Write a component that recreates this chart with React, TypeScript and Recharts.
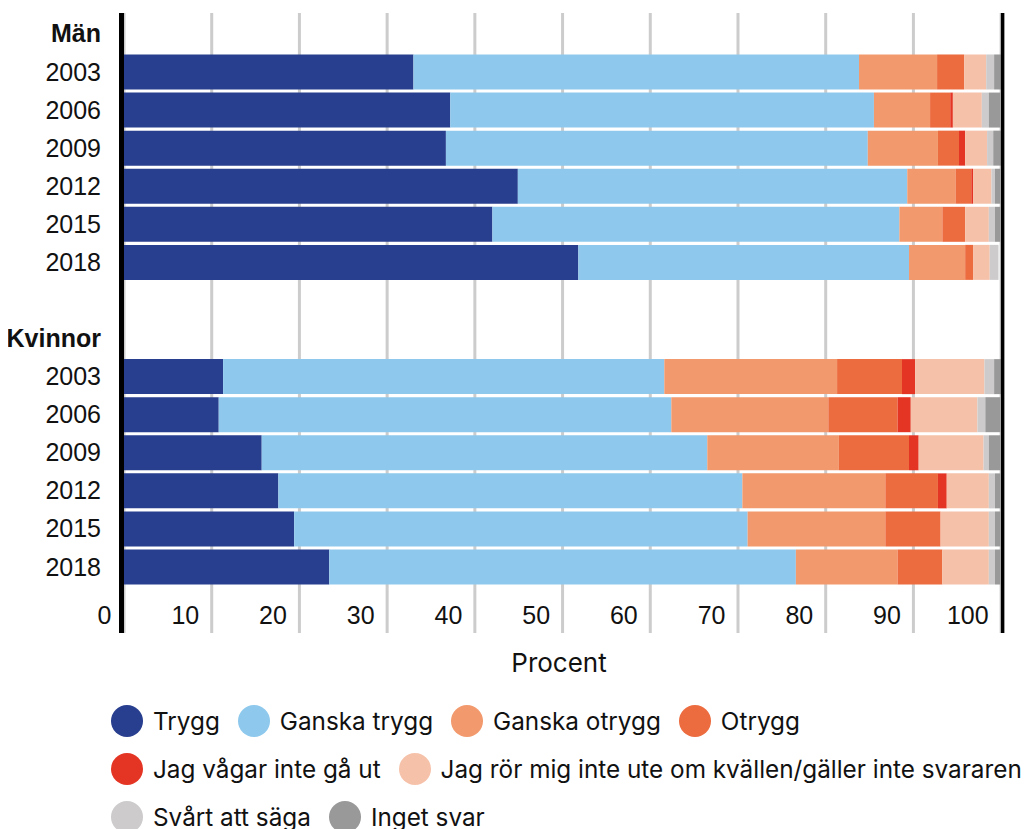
import { BarChart, Bar, XAxis, YAxis, CartesianGrid, ReferenceLine } from "recharts";

// Andel (%) som känner sig trygga ute ensamma sent en kväll
const years = ["2003", "2006", "2009", "2012", "2015", "2018"];
const groups = ["Män", "Kvinnor"];
const xTicks = [0, 10, 20, 30, 40, 50, 60, 70, 80, 90, 100];

const seriesNames = [
  "Trygg",
  "Ganska trygg",
  "Ganska otrygg",
  "Otrygg",
  "Jag vågar inte gå ut",
  "Jag rör mig inte ute om kvällen/gäller inte svararen",
  "Svårt att säga",
  "Inget svar",
];
const seriesColors = ["#283e8f", "#8ec9ed", "#f2996d", "#ec6b3f", "#e43524", "#f6c1a9", "#cdcbcb", "#999999"];

// Män, per svarsalternativ, 2003–2018
const menTrygg = [33.0, 37.2, 36.7, 44.9, 42.0, 51.8];
const menGanskaTrygg = [50.8, 48.3, 48.1, 44.4, 46.4, 37.7];
const menGanskaOtrygg = [8.9, 6.4, 8.0, 5.5, 4.9, 6.4];
const menOtrygg = [3.1, 2.3, 2.4, 1.8, 2.6, 0.9];
const menVagarInte = [0, 0.3, 0.7, 0.2, 0, 0];
const menRorMigInte = [2.5, 3.3, 2.5, 2.1, 2.7, 1.9];
const menSvart = [0.9, 0.8, 0.7, 0.4, 0.7, 1.0];
const menIngetSvar = [0.8, 1.3, 0.9, 0.6, 0.6, 0];

// Kvinnor, per svarsalternativ, 2003–2018
const womenTrygg = [11.3, 10.8, 15.7, 17.6, 19.4, 23.4];
const womenGanskaTrygg = [50.3, 51.6, 50.8, 52.9, 51.7, 53.2];
const womenGanskaOtrygg = [19.7, 17.9, 15.0, 16.3, 15.7, 11.6];
const womenOtrygg = [7.4, 7.9, 8.0, 6.0, 6.3, 5.1];
const womenVagarInte = [1.5, 1.5, 1.1, 1.0, 0, 0];
const womenRorMigInte = [7.9, 7.6, 7.4, 4.8, 5.5, 5.3];
const womenSvart = [1.1, 0.9, 0.6, 0.7, 0.7, 0.7];
const womenIngetSvar = [0.9, 1.7, 1.3, 0.6, 0.6, 0.6];

const menSeries = [menTrygg, menGanskaTrygg, menGanskaOtrygg, menOtrygg, menVagarInte, menRorMigInte, menSvart, menIngetSvar];
const womenSeries = [
  womenTrygg,
  womenGanskaTrygg,
  womenGanskaOtrygg,
  womenOtrygg,
  womenVagarInte,
  womenRorMigInte,
  womenSvart,
  womenIngetSvar,
];

const legendRows = [[0, 1, 2, 3], [4, 5], [6, 7]];

type Row = { id: string; label: string; header?: boolean; [k: string]: any };

const buildRows = (prefix: string, series: number[][]): Row[] =>
  years.map((y, i) => {
    const row: Row = { id: prefix + y, label: y };
    series.forEach((s, j) => (row["s" + j] = s[i]));
    return row;
  });

const data: Row[] = [
  { id: "men", label: groups[0], header: true },
  ...buildRows("m", menSeries),
  { id: "gap", label: "" },
  { id: "women", label: groups[1], header: true },
  ...buildRows("w", womenSeries),
];

const labelById: Record<string, Row> = {};
data.forEach((r) => (labelById[r.id] = r));

const FONT = "'Liberation Sans', Arial, sans-serif";

const YTick = ({ x, y, payload }: any) => {
  const row = labelById[payload.value];
  if (!row || !row.label) return null;
  return (
    <text
      x={x}
      y={y}
      dy="0.36em"
      textAnchor="end"
      fontFamily={FONT}
      fontSize={25}
      fontWeight={row.header ? 700 : 400}
      fill="#111"
    >
      {row.label}
    </text>
  );
};

const XTick = ({ x, y, payload }: any) => (
  <text x={x - 12.5} y={y - 9} textAnchor="end" fontFamily={FONT} fontSize={25} fill="#111">
    {payload.value}
  </text>
);

const Legend = () => (
  <div style={{ position: "absolute", left: 103, top: 697, fontFamily: "Inter, sans-serif", fontSize: 24.3, color: "#111" }}>
    {legendRows.map((r, ri) => (
      <div key={ri} style={{ display: "flex", alignItems: "center", height: 32, marginBottom: 16, whiteSpace: "nowrap" }}>
        {r.map((i) => (
          <div key={i} style={{ display: "flex", alignItems: "center", marginRight: 18 }}>
            <span
              style={{
                display: "inline-block",
                width: 32,
                height: 32,
                borderRadius: "50%",
                background: seriesColors[i],
                marginRight: 10,
              }}
            />
            <span>{seriesNames[i]}</span>
          </div>
        ))}
      </div>
    ))}
  </div>
);

const App = () => {
  return (
    <div style={{ position: "relative", width: 1027, height: 821 }}>
      <BarChart
        width={1000}
        height={680}
        data={data}
        layout="vertical"
        margin={{ top: 5, right: 6, bottom: 10, left: 0 }}
        barSize={35}
      >
        <CartesianGrid horizontal={false} stroke="#cccccc" strokeWidth={3} />
        <XAxis
          type="number"
          domain={[0, 100]}
          ticks={xTicks}
          interval={0}
          axisLine={false}
          tickLine={false}
          tickSize={0}
          tickMargin={0}
          height={45}
          tick={<XTick />}
          label={{ value: "Procent", position: "insideBottom", offset: 6, dx: -4, fontFamily: "Inter, sans-serif", fontSize: 26, fill: "#111" }}
        />
        <YAxis
          type="category"
          dataKey="id"
          width={116}
          axisLine={false}
          tickLine={false}
          tickSize={0}
          tickMargin={23}
          interval={0}
          padding={{ top: 1.4, bottom: 47.4 }}
          tick={<YTick />}
        />
        {seriesNames.map((name, i) => (
          <Bar key={name} dataKey={"s" + i} name={name} stackId="a" fill={seriesColors[i]} isAnimationActive={false} />
        ))}
        <ReferenceLine
          x={0}
          stroke="#000"
          shape={(p: any) => <line x1={p.x1 - 2.5} x2={p.x2 - 2.5} y1={p.y1} y2={p.y2} stroke="#000" strokeWidth={5} />}
        />
        <ReferenceLine
          x={100}
          stroke="#000"
          shape={(p: any) => <line x1={p.x1 + 1.5} x2={p.x2 + 1.5} y1={p.y1} y2={p.y2} stroke="#000" strokeWidth={3.5} />}
        />
      </BarChart>
      <Legend />
    </div>
  );
};

export default App;
